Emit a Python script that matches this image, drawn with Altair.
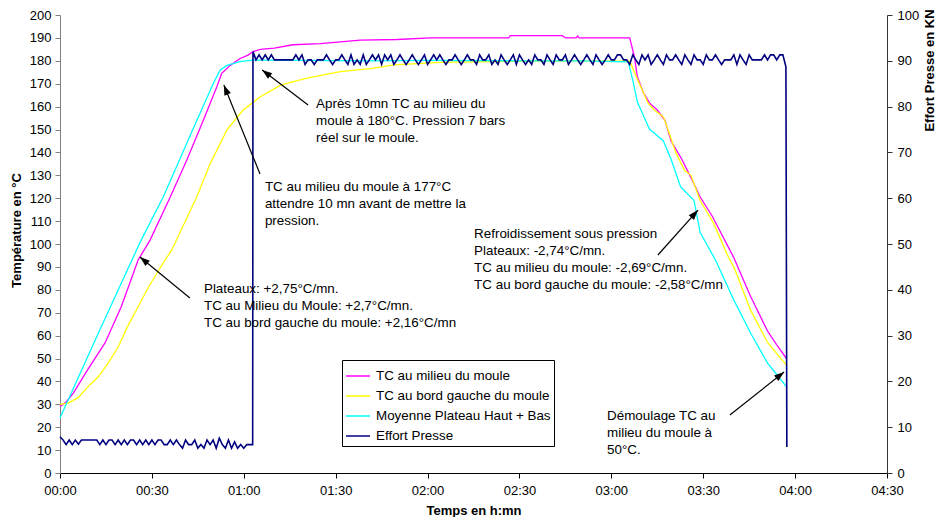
import altair as alt
import pandas as pd
import numpy as np

# ---------------- data (time in minutes) ----------------
series_names = ["TC au milieu du moule", "TC au bord gauche du moule",
                "Moyenne Plateau Haut + Bas", "Effort Presse"]
series_colors = ["#FF00FF", "#FFFF00", "#00FFFF", "#000080"]

milieu_t = [0, 2, 4.4, 9, 14.7, 20, 25.5, 29.4, 36, 41.4, 46.8, 51.2, 52.8, 55.6, 58.8, 61.4,
            63, 65.4, 70, 76, 85, 98, 110, 121, 146.5, 147, 164, 165, 168.5, 169, 169.5, 186,
            187.5, 188.5, 190.5, 192.5, 195, 197.5, 199.5, 203, 206, 209, 213, 220, 225.5, 231, 234, 237.2]
milieu_v = [29, 31, 35, 45, 56.8, 72.6, 93, 101.7, 120.5, 136.7, 154, 168.7, 174.5, 178, 181, 182.5,
            184, 185, 185.5, 187, 187.5, 189, 189.3, 190, 190, 191, 191, 190, 190, 190.8, 190, 190,
            182, 173, 166, 161.5, 158.5, 154, 145, 137, 129, 120.5, 112, 94, 77, 62, 56, 50]

bord_t = [0, 2.7, 6, 9, 12.5, 15.7, 19, 22, 25.5, 28.8, 34.3, 36.5, 44.7, 49, 54.5, 59.8,
          65.4, 72, 80.6, 91.5, 102, 109, 124, 150, 170, 186, 188.5, 192, 194, 197, 199, 201,
          204, 206, 209, 213.4, 218.3, 220, 225.5, 231, 237.2]
bord_v = [30, 30.5, 33, 37.5, 42, 48, 55, 63.8, 72.6, 81, 93, 97.4, 120.7, 135, 149.8, 158.5,
          164.3, 169.4, 172.4, 175.3, 176.7, 178.2, 179.3, 179.8, 180, 179.8, 172, 161.5, 158.5, 155.5, 148, 140,
          132, 130, 119, 109, 94, 90, 71, 57, 47]

moy_t = [0, 12.5, 25, 26.5, 33.7, 39, 44.7, 50, 52.3, 54.5, 58.8, 63, 80, 100, 120, 150,
         170, 185.5, 187, 188.5, 190.5, 192.5, 194, 197, 199.5, 202.6, 207, 209, 214, 220, 225.5, 231,
         234, 237.2]
moy_v = [24, 61, 97.4, 101.7, 120.5, 136.7, 154, 170, 176, 178, 179.6, 180.3, 180.2, 180, 180.2, 180,
         180, 179.5, 171.6, 162, 156, 150, 148.5, 145, 137, 125, 119, 105, 93, 75.5, 61, 48,
         43, 37.6]

presse_t = list(range(0, 63)) + [62.9] + list(range(63, 237)) + [237, 237.3]
presse_v = [7.9, 7.2, 6.2, 7.2, 6.2, 7.2, 6.3, 7.2, 7.2, 7.2, 7.2, 7.2, 7.2, 6.2, 7.2, 6.2,
            7.2, 7.2, 6.2, 7.2, 6.2, 7.2, 6.2, 7.2, 7.2, 6.2, 7.2, 6.2, 7.2, 6.2, 7.2, 6.2,
            7.2, 7.2, 6.2, 6.2, 7.2, 6.2, 7.2, 6.2, 5.4, 7.2, 6.2, 6.2, 7.2, 5.4, 6.2, 5.4,
            7.2, 6.2, 7.2, 5.4, 7.6, 6.2, 5.4, 7.2, 5.4, 6.8, 5.4, 6.2, 5.4, 6.2, 6.2,
            6.2,
            92, 90.2, 91.3, 90.2, 91.3, 90.2, 91.3, 90.2, 90.2, 90.2,
            90.2, 90.2, 90.2, 90.2, 91.3, 90.2, 91.3, 89.2, 90.2, 90.2,
            89.2, 90.2, 90.2, 90.2, 91.3, 90.2, 89.2, 90.2, 90.2, 91.3,
            90.2, 89.2, 91.3, 89.2, 90.2, 89.2, 91.3, 89.2, 90.2, 91.3,
            90.2, 91.3, 89.2, 91.3, 90.2, 91.3, 89.2, 90.2, 91.3, 90.2,
            89.2, 90.2, 91.3, 90.2, 89.2, 90.2, 91.3, 89.2, 90.2, 91.3,
            90.2, 91.3, 90.2, 89.2, 90.2, 90.2, 91.3, 90.2, 89.2, 90.2,
            91.3, 90.2, 90.2, 89.2, 91.3, 90.2, 90.2, 91.3, 89.2, 90.2,
            89.2, 91.3, 90.2, 89.2, 90.2, 91.3, 89.2, 91.3, 90.2, 89.2,
            90.2, 89.2, 91.3, 90.2, 90.2, 89.2, 91.3, 90.2, 89.2, 91.3,
            90.2, 90.2, 91.3, 89.2, 90.2, 91.3, 90.2, 89.2, 90.2, 91.3,
            90.2, 89.2, 91.3, 90.2, 89.2, 90.2, 91.3, 90.2, 90.2, 91.3,
            91.3, 90.2, 90.2, 89.2, 91.3, 90.2, 89.2, 91.3, 90.2, 91.3,
            89.2, 90.2, 91.3, 90.2, 89.2, 91.3, 90.2, 90.2, 91.3, 90.2,
            89.2, 91.3, 90.2, 89.2, 91.3, 90.2, 90.2, 89.2, 91.3, 90.2,
            90.2, 91.3, 90.2, 89.2, 90.2, 90.2, 90.2, 91.3, 89.2, 91.3,
            90.2, 89.2, 91.3, 90.2, 90.2, 90.2, 90.2, 91.3, 90.2, 91.3,
            91.3, 90.2, 91.3, 91.3,
            88.7, 5.7]

x_ticks = [0, 30, 60, 90, 120, 150, 180, 210, 240, 270]
left_ticks = list(range(0, 201, 10))
right_ticks = list(range(0, 101, 10))

# annotations (data coordinates: minutes, °C; position of first text line)
note_t = [83.6, 66.9, 47.0, 135.2, 178.6]
note_v = [161.2, 124.9, 80.4, 104.4, 24.9]
note_text = [
    "Après 10mn TC au milieu du\nmoule à 180°C. Pression 7 bars\nréel sur le moule.",
    "TC au milieu du moule à 177°C\nattendre 10 mn avant de mettre la\npression.",
    "Plateaux: +2,75°C/mn.\nTC au Milieu du Moule: +2,7°C/mn.\nTC au bord gauche du moule: +2,16°C/mn",
    "Refroidissement sous pression\nPlateaux: -2,74°C/mn.\nTC au milieu du moule: -2,69°C/mn.\nTC au bord gauche du moule: -2,58°C/mn",
    "Démoulage TC au\nmilieu du moule à\n50°C.",
]
arrow_tail_t = [81.0, 65.3, 42.4, 195.2, 218.7]
arrow_tail_v = [160.7, 130.6, 76.4, 95.2, 25.3]
arrow_tip_t = [66.0, 53.5, 26.1, 208.3, 236.4]
arrow_tip_v = [176.0, 169.4, 94.3, 114.8, 44.1]

# ---------------- frames ----------------
rows = []
for name, ts, vs in [(series_names[0], milieu_t, milieu_v),
                     (series_names[1], bord_t, bord_v),
                     (series_names[2], moy_t, moy_v)]:
    for i, (t, v) in enumerate(zip(ts, vs)):
        rows.append({"t": t, "v": v, "s": name, "o": i})
df_temp = pd.DataFrame(rows)
df_presse = pd.DataFrame({"t": presse_t, "v": presse_v, "s": series_names[3],
                          "o": list(range(len(presse_t)))})

W, H = 827, 458
px_min = W / 270.0
px_deg = H / 200.0
dx = (np.array(arrow_tip_t) - np.array(arrow_tail_t)) * px_min
dy = -(np.array(arrow_tip_v) - np.array(arrow_tail_v)) * px_deg
ang = (np.degrees(np.arctan2(dx, -dy)) + 360) % 360
df_arrow = pd.DataFrame({"t1": arrow_tail_t, "v1": arrow_tail_v,
                         "t2": arrow_tip_t, "v2": arrow_tip_v, "ang": ang})
df_note = pd.DataFrame({"t": note_t, "v": note_v, "txt": note_text})

FONT = "Liberation Sans"
xscale = alt.Scale(domain=[0, 270], nice=False, zero=False)
yscale = alt.Scale(domain=[0, 200], nice=False)
color_scale = alt.Scale(domain=series_names, range=series_colors)
legend = alt.Legend(title=None, orient="none", legendX=282, legendY=345,
                    strokeColor="black", fillColor="white", padding=3,
                    symbolType="stroke", symbolSize=576, symbolStrokeWidth=1.5,
                    labelFont=FONT, labelFontSize=13.4, labelColor="black", labelLimit=400,
                    rowPadding=0, labelOffset=5)

x_axis = alt.Axis(values=x_ticks, title="Temps en h:mn", grid=False, labelFlush=False,
                  labelExpr="(floor(datum.value/60) < 10 ? '0' : '') + floor(datum.value/60) + ':' + (datum.value % 60 < 10 ? '0' : '') + (datum.value % 60)",
                  domainColor="black", tickColor="black", tickSize=5, labelPadding=6,
                  titleY=31)
left_axis = alt.Axis(values=left_ticks, title="Température en °C", grid=False, labelFlush=False,
                     domainColor="#808080", tickColor="#808080", tickSize=5, labelPadding=4,
                     titleX=-37, titleY=215)
right_axis = alt.Axis(values=right_ticks, title="Effort Presse en KN", grid=False, orient="right",
                      labelFlush=False,
                      domainColor="#333333", tickColor="#333333", tickSize=5, labelPadding=5,
                      titleAngle=270, titleBaseline="bottom", titleX=49, titleY=55)

temps = alt.Chart(df_temp).mark_line(strokeWidth=1.3).encode(
    x=alt.X("t:Q", scale=xscale, axis=x_axis),
    y=alt.Y("v:Q", scale=yscale, axis=left_axis),
    color=alt.Color("s:N", scale=color_scale, legend=legend),
    order=alt.Order("o:Q"),
)

presse = alt.Chart(df_presse).mark_line(strokeWidth=1.6).encode(
    x=alt.X("t:Q", scale=xscale, axis=x_axis),
    y=alt.Y("v:Q", scale=alt.Scale(domain=[0, 100], nice=False), axis=right_axis),
    color=alt.Color("s:N", scale=color_scale, legend=legend),
    order=alt.Order("o:Q"),
)

rules = alt.Chart(df_arrow).mark_rule(color="black", strokeWidth=1.2).encode(
    x=alt.X("t1:Q", scale=xscale, axis=x_axis),
    y=alt.Y("v1:Q", scale=yscale, axis=None),
    x2="t2:Q", y2="v2:Q",
)

heads = alt.Chart(df_arrow).mark_point(
    shape="M0,0L0.7,2L-0.7,2Z", filled=True, size=100, color="black", opacity=1, strokeWidth=0
).encode(
    x=alt.X("t2:Q", scale=xscale, axis=x_axis),
    y=alt.Y("v2:Q", scale=yscale, axis=None),
    angle=alt.Angle("ang:Q", scale=None),
)

notes = alt.Chart(df_note).mark_text(
    align="left", baseline="middle", lineBreak="\n", lineHeight=17,
    font=FONT, fontSize=13.4, color="black"
).encode(
    x=alt.X("t:Q", scale=xscale, axis=x_axis),
    y=alt.Y("v:Q", scale=yscale, axis=None),
    text="txt:N",
)

chart = alt.layer(temps, presse, rules, heads, notes).resolve_scale(
    y="independent"
).properties(
    width=W, height=H,
    autosize=alt.AutoSizeParams(type="none"),
    padding={"left": 52, "top": 7, "right": 50, "bottom": 44},
).configure_view(strokeWidth=0).configure_axis(
    labelFont=FONT, labelFontSize=13, labelColor="black",
    titleFont=FONT, titleFontSize=13, titleFontWeight="bold", titleColor="black",
)

chart.save("out.html", embed_options={"renderer": "svg", "actions": False})
